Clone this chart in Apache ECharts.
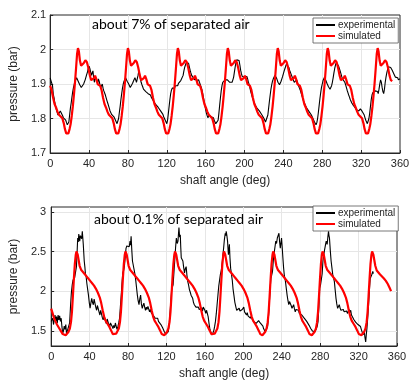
<!DOCTYPE html>
<html><head><meta charset="utf-8">
<script src="https://cdn.jsdelivr.net/npm/echarts@6/dist/echarts.min.js"></script>
<style>html,body{margin:0;padding:0;background:#fff}#c{width:420px;height:392px}</style>
</head><body><div id="c"></div>
<script>
// ---- top panel: about 7% of separated air ----
const topTitle = 'about 7% of separated air';
const topXTicks = [0, 360, 40];
const topYRange = [1.7, 2.1, 0.1];
const topExp = [[0,1.918],[0.8,1.91],[1.6,1.915],[2.4,1.895],[3.2,1.87],[4,1.86],[4.8,1.845],[5.6,1.835],[6.4,1.825],[7.2,1.818],[8,1.81],[8.8,1.815],[9.6,1.812],[10.4,1.822],[11.2,1.818],[12,1.825],[12.8,1.808],[13.6,1.802],[14.4,1.806],[15.2,1.798],[16,1.795],[16.8,1.788],[17.6,1.782],[18.4,1.778],[19.2,1.79],[20,1.81],[20.8,1.83],[21.6,1.845],[22.4,1.862],[23.2,1.878],[24,1.89],[24.8,1.9],[25.6,1.908],[26.4,1.912],[27.2,1.918],[28,1.915],[28.8,1.908],[29.6,1.905],[30.4,1.898],[31.2,1.895],[32,1.89],[32.8,1.886],[33.6,1.892],[34.4,1.9],[35.2,1.905],[36,1.912],[36.8,1.92],[37.6,1.928],[38.4,1.935],[39.2,1.945],[40,1.952],[40.8,1.945],[41.6,1.935],[42.4,1.925],[43.2,1.932],[44,1.938],[44.8,1.915],[45.6,1.905],[46.4,1.92],[47.2,1.925],[48,1.91],[48.8,1.902],[49.6,1.915],[50.4,1.908],[51.2,1.898],[52,1.89],[52.8,1.895],[53.6,1.9],[54.4,1.888],[55.2,1.88],[56,1.875],[56.8,1.868],[57.6,1.86],[58.4,1.852],[59.2,1.845],[60,1.84],[60.8,1.83],[61.6,1.822],[62.4,1.818],[63.2,1.812],[64,1.815],[64.8,1.808],[65.6,1.805],[66.4,1.8],[67.2,1.795],[68,1.79],[68.8,1.785],[69.6,1.79],[70.4,1.8],[71.2,1.818],[72,1.835],[72.8,1.855],[73.6,1.872],[74.4,1.888],[75.2,1.9],[76,1.908],[76.8,1.912],[77.6,1.918],[78.4,1.915],[79.2,1.908],[80,1.905],[80.8,1.9],[81.6,1.895],[82.4,1.89],[83.2,1.888],[84,1.895],[84.8,1.902],[85.6,1.908],[86.4,1.912],[87.2,1.918],[88,1.912],[88.8,1.905],[89.6,1.91],[90.4,1.925],[91.2,1.938],[92,1.93],[92.8,1.915],[93.6,1.905],[94.4,1.898],[95.2,1.892],[96,1.885],[96.8,1.88],[97.6,1.882],[98.4,1.878],[99.2,1.875],[100,1.878],[100.8,1.872],[101.6,1.87],[102.4,1.875],[103.2,1.868],[104,1.862],[104.8,1.865],[105.6,1.858],[106.4,1.85],[107.2,1.852],[108,1.845],[108.8,1.84],[109.6,1.842],[110.4,1.835],[111.2,1.832],[112,1.835],[112.8,1.828],[113.6,1.822],[114.4,1.825],[115.2,1.818],[116,1.812],[116.8,1.805],[117.6,1.8],[118.4,1.795],[119.2,1.79],[120,1.785],[120.8,1.795],[121.6,1.815],[122.4,1.835],[123.2,1.855],[124,1.872],[124.8,1.882],[125.6,1.888],[126.4,1.886],[127.2,1.89],[128,1.888],[128.8,1.895],[129.6,1.892],[130.4,1.898],[131.2,1.895],[132,1.902],[132.8,1.898],[133.6,1.905],[134.4,1.91],[135.2,1.908],[136,1.915],[136.8,1.925],[137.6,1.938],[138.4,1.948],[139.2,1.955],[140,1.962],[140.8,1.965],[141.6,1.958],[142.4,1.96],[143.2,1.95],[144,1.94],[144.8,1.932],[145.6,1.925],[146.4,1.928],[147.2,1.918],[148,1.922],[148.8,1.912],[149.6,1.918],[150.4,1.91],[151.2,1.915],[152,1.908],[152.8,1.912],[153.6,1.905],[154.4,1.9],[155.2,1.892],[156,1.885],[156.8,1.875],[157.6,1.862],[158.4,1.85],[159.2,1.838],[160,1.825],[160.8,1.815],[161.6,1.808],[162.4,1.802],[163.2,1.81],[164,1.805],[164.8,1.812],[165.6,1.805],[166.4,1.8],[167.2,1.808],[168,1.802],[168.8,1.795],[169.6,1.79],[170.4,1.785],[171.2,1.78],[172,1.782],[172.8,1.795],[173.6,1.815],[174.4,1.838],[175.2,1.86],[176,1.88],[176.8,1.895],[177.6,1.905],[178.4,1.91],[179.2,1.908],[180,1.912],[180.8,1.915],[181.6,1.91],[182.4,1.912],[183.2,1.908],[184,1.912],[184.8,1.905],[185.6,1.908],[186.4,1.902],[187.2,1.905],[188,1.912],[188.8,1.92],[189.6,1.935],[190.4,1.95],[191.2,1.962],[192,1.97],[192.8,1.975],[193.6,1.972],[194.4,1.968],[195.2,1.955],[196,1.94],[196.8,1.93],[197.6,1.922],[198.4,1.918],[199.2,1.925],[200,1.92],[200.8,1.918],[201.6,1.925],[202.4,1.922],[203.2,1.915],[204,1.905],[204.8,1.898],[205.6,1.888],[206.4,1.878],[207.2,1.87],[208,1.862],[208.8,1.855],[209.6,1.848],[210.4,1.845],[211.2,1.838],[212,1.835],[212.8,1.83],[213.6,1.828],[214.4,1.825],[215.2,1.822],[216,1.818],[216.8,1.815],[217.6,1.812],[218.4,1.808],[219.2,1.805],[220,1.8],[220.8,1.795],[221.6,1.79],[222.4,1.788],[223.2,1.795],[224,1.81],[224.8,1.83],[225.6,1.85],[226.4,1.868],[227.2,1.885],[228,1.898],[228.8,1.908],[229.6,1.915],[230.4,1.92],[231.2,1.925],[232,1.922],[232.8,1.918],[233.6,1.912],[234.4,1.905],[235.2,1.9],[236,1.898],[236.8,1.902],[237.6,1.908],[238.4,1.915],[239.2,1.922],[240,1.93],[240.8,1.938],[241.6,1.945],[242.4,1.952],[243.2,1.958],[244,1.962],[244.8,1.955],[245.6,1.948],[246.4,1.94],[247.2,1.935],[248,1.928],[248.8,1.922],[249.6,1.915],[250.4,1.91],[251.2,1.905],[252,1.9],[252.8,1.905],[253.6,1.912],[254.4,1.905],[255.2,1.898],[256,1.892],[256.8,1.888],[257.6,1.88],[258.4,1.872],[259.2,1.865],[260,1.858],[260.8,1.85],[261.6,1.845],[262.4,1.84],[263.2,1.835],[264,1.83],[264.8,1.828],[265.6,1.825],[266.4,1.82],[267.2,1.818],[268,1.815],[268.8,1.81],[269.6,1.805],[270.4,1.8],[271.2,1.795],[272,1.79],[272.8,1.785],[273.6,1.782],[274.4,1.788],[275.2,1.8],[276,1.818],[276.8,1.838],[277.6,1.858],[278.4,1.875],[279.2,1.89],[280,1.9],[280.8,1.91],[281.6,1.915],[282.4,1.92],[283.2,1.915],[284,1.908],[284.8,1.902],[285.6,1.898],[286.4,1.892],[287.2,1.888],[288,1.885],[288.8,1.888],[289.6,1.895],[290.4,1.905],[291.2,1.918],[292,1.932],[292.8,1.945],[293.6,1.955],[294.4,1.962],[295.2,1.965],[296,1.96],[296.8,1.952],[297.6,1.945],[298.4,1.938],[299.2,1.93],[300,1.922],[300.8,1.915],[301.6,1.92],[302.4,1.912],[303.2,1.905],[304,1.898],[304.8,1.89],[305.6,1.882],[306.4,1.875],[307.2,1.868],[308,1.862],[308.8,1.855],[309.6,1.85],[310.4,1.845],[311.2,1.84],[312,1.838],[312.8,1.835],[313.6,1.832],[314.4,1.828],[315.2,1.825],[316,1.822],[316.8,1.82],[317.6,1.822],[318.4,1.825],[319.2,1.828],[320,1.825],[320.8,1.822],[321.6,1.825],[322.4,1.818],[323.2,1.81],[324,1.802],[324.8,1.795],[325.6,1.79],[326.4,1.785],[327.2,1.788],[328,1.8],[328.8,1.815],[329.6,1.835],[330.4,1.855],[331.2,1.868],[332,1.875],[332.8,1.878],[333.6,1.875],[334.4,1.88],[335.2,1.878],[336,1.882],[336.8,1.878],[337.6,1.872],[338.4,1.885],[339.2,1.9],[340,1.912],[340.8,1.905],[341.6,1.89],[342.4,1.878],[343.2,1.872],[344,1.885],[344.8,1.905],[345.6,1.92],[346.4,1.932],[347.2,1.942],[348,1.95],[348.8,1.955],[349.6,1.952],[350.4,1.948],[351.2,1.945],[352,1.94],[352.8,1.935],[353.6,1.93],[354.4,1.925],[355.2,1.92],[356,1.918],[356.8,1.915],[357.6,1.918],[358.4,1.912],[359.2,1.915],[360,1.915]];
const topSim = [[0,1.895],[1.5,1.882],[3,1.86],[4.5,1.842],[6,1.832],[7.5,1.82],[9,1.811],[11,1.806],[12.5,1.801],[14,1.786],[15.2,1.769],[16.5,1.757],[17.5,1.753],[18.7,1.757],[20,1.77],[21,1.783],[22.2,1.808],[23.3,1.835],[24.4,1.868],[25.4,1.9],[26.6,1.945],[27.7,1.988],[28.6,2.004],[29.5,1.995],[30.6,1.968],[31.8,1.953],[33,1.951],[34.6,1.961],[36.2,1.969],[37.8,1.963],[39.2,1.948],[40.8,1.925],[42.2,1.911],[43.6,1.908],[45,1.917],[46.2,1.924],[47.5,1.914],[49,1.899],[50.4,1.895],
[51.4,1.895],[52.9,1.882],[54.4,1.86],[55.9,1.842],[57.4,1.832],[58.9,1.82],[60.4,1.811],[62.4,1.806],[63.9,1.801],[65.4,1.786],[66.6,1.769],[67.9,1.757],[68.9,1.753],[70.1,1.757],[71.4,1.77],[72.4,1.783],[73.6,1.808],[74.7,1.835],[75.8,1.868],[76.8,1.9],[78,1.945],[79.1,1.988],[80,2.004],[80.9,1.995],[82,1.968],[83.2,1.953],[84.4,1.951],[86,1.961],[87.6,1.969],[89.2,1.963],[90.6,1.948],[92.2,1.925],[93.6,1.911],[95,1.908],[96.4,1.917],[97.6,1.924],[98.9,1.914],[100.4,1.899],[101.8,1.895],
[102.8,1.895],[104.3,1.882],[105.8,1.86],[107.3,1.842],[108.8,1.832],[110.3,1.82],[111.8,1.811],[113.8,1.806],[115.3,1.801],[116.8,1.786],[118,1.769],[119.3,1.757],[120.3,1.753],[121.5,1.757],[122.8,1.77],[123.8,1.783],[125,1.808],[126.1,1.835],[127.2,1.868],[128.2,1.9],[129.4,1.945],[130.5,1.988],[131.4,2.004],[132.3,1.995],[133.4,1.968],[134.6,1.953],[135.8,1.951],[137.4,1.961],[139,1.969],[140.6,1.963],[142,1.948],[143.6,1.925],[145,1.911],[146.4,1.908],[147.8,1.917],[149,1.924],[150.3,1.914],[151.8,1.899],[153.2,1.895],
[154.2,1.895],[155.7,1.882],[157.2,1.86],[158.7,1.842],[160.2,1.832],[161.7,1.82],[163.2,1.811],[165.2,1.806],[166.7,1.801],[168.2,1.786],[169.4,1.769],[170.7,1.757],[171.7,1.753],[172.9,1.757],[174.2,1.77],[175.2,1.783],[176.4,1.808],[177.5,1.835],[178.6,1.868],[179.6,1.9],[180.8,1.945],[181.9,1.988],[182.8,2.004],[183.7,1.995],[184.8,1.968],[186,1.953],[187.2,1.951],[188.8,1.961],[190.4,1.969],[192,1.963],[193.4,1.948],[195,1.925],[196.4,1.911],[197.8,1.908],[199.2,1.917],[200.4,1.924],[201.7,1.914],[203.2,1.899],[204.6,1.895],
[205.6,1.895],[207.1,1.882],[208.6,1.86],[210.1,1.842],[211.6,1.832],[213.1,1.82],[214.6,1.811],[216.6,1.806],[218.1,1.801],[219.6,1.786],[220.8,1.769],[222.1,1.757],[223.1,1.753],[224.3,1.757],[225.6,1.77],[226.6,1.783],[227.8,1.808],[228.9,1.835],[230,1.868],[231,1.9],[232.2,1.945],[233.3,1.988],[234.2,2.004],[235.1,1.995],[236.2,1.968],[237.4,1.953],[238.6,1.951],[240.2,1.961],[241.8,1.969],[243.4,1.963],[244.8,1.948],[246.4,1.925],[247.8,1.911],[249.2,1.908],[250.6,1.917],[251.8,1.924],[253.1,1.914],[254.6,1.899],[256,1.895],
[257,1.895],[258.5,1.882],[260,1.86],[261.5,1.842],[263,1.832],[264.5,1.82],[266,1.811],[268,1.806],[269.5,1.801],[271,1.786],[272.2,1.769],[273.5,1.757],[274.5,1.753],[275.7,1.757],[277,1.77],[278,1.783],[279.2,1.808],[280.3,1.835],[281.4,1.868],[282.4,1.9],[283.6,1.945],[284.7,1.988],[285.6,2.004],[286.5,1.995],[287.6,1.968],[288.8,1.953],[290,1.951],[291.6,1.961],[293.2,1.969],[294.8,1.963],[296.2,1.948],[297.8,1.925],[299.2,1.911],[300.6,1.908],[302,1.917],[303.2,1.924],[304.5,1.914],[306,1.899],[307.4,1.895],
[308.4,1.895],[309.9,1.882],[311.4,1.86],[312.9,1.842],[314.4,1.832],[315.9,1.82],[317.4,1.811],[319.4,1.806],[320.9,1.801],[322.4,1.786],[323.6,1.769],[324.9,1.757],[325.9,1.753],[327.1,1.757],[328.4,1.77],[329.4,1.783],[330.6,1.808],[331.7,1.835],[332.8,1.868],[333.8,1.9],[335,1.945],[336.1,1.988],[337,2.004],[337.9,1.995],[339,1.968],[340.2,1.953],[341.4,1.951],[343,1.961],[344.6,1.969],[346.2,1.963],[347.6,1.948],[349.2,1.925],[350.6,1.911],[352,1.908]];

// ---- bottom panel: about 0.1% of separated air ----
const botTitle = 'about 0.1% of separated air';
const botYRange = [1.31, 3.06];
const botYTicks = [1.5, 2, 2.5, 3];
const botExp = [[0,1.62],[0.8,1.6],[1.6,1.66],[2.4,1.58],[3.2,1.64],[4,1.7],[4.8,1.62],[5.6,1.68],[6.4,1.6],[7.2,1.7],[8,1.64],[8.8,1.69],[9.6,1.62],[10.4,1.66],[11.2,1.55],[12,1.47],[12.8,1.5],[13.6,1.56],[14.4,1.52],[15.2,1.58],[16,1.46],[16.8,1.5],[17.6,1.48],[18.4,1.52],[19.2,1.6],[20.2,1.83],[21,1.98],[21.9,2.08],[22.7,2.14],[23.6,2.12],[24.4,2.17],[25.3,2.16],[26.3,2.31],[27,2.5],[27.6,2.67],[28.2,2.62],[28.7,2.72],[29.2,2.68],[29.7,2.63],[30.4,2.7],[31,2.71],[31.7,2.66],[32.4,2.755],[33.4,2.59],[34.4,2.38],[35.1,2.3],[35.7,2.21],[36.4,2.18],[37.1,2.1],[38,2.02],[38.8,1.95],[39.6,1.86],[40.5,1.785],[41.3,1.85],[42.2,1.91],[43,1.86],[43.9,1.83],[44.7,1.9],[45.6,1.89],[46.4,1.8],[47.3,1.76],[48.1,1.82],[49,1.83],[49.8,1.74],[50.7,1.7],[51.5,1.76],[52.4,1.74],[53.2,1.67],[54.1,1.64],[55,1.69],[55.8,1.7],[56.6,1.62],[57.5,1.59],[58.3,1.65],[59.2,1.66],[60,1.58],[60.9,1.55],[61.7,1.6],[62.6,1.62],[63.4,1.56],[64.3,1.53],[65.1,1.57],[66,1.54],[66.8,1.6],[67.7,1.59],[68.5,1.52],[69.4,1.55],[70.3,1.6],[71.2,1.66],[72,1.8],[72.9,1.95],[73.7,2.1],[74.5,2.23],[75.4,2.26],[76.2,2.31],[77,2.42],[77.9,2.54],[78.7,2.57],[79.6,2.59],[80.4,2.55],[81.2,2.56],[82.1,2.63],[82.6,2.58],[83.2,2.69],[83.9,2.52],[84.6,2.38],[85.4,2.33],[86.3,2.31],[87.1,2.22],[88,2.14],[88.8,2.05],[89.7,1.95],[90.5,1.88],[91.4,1.83],[92.2,1.9],[93.1,1.95],[93.9,1.84],[94.8,1.785],[95.6,1.82],[96.5,1.85],[97.3,1.8],[98.2,1.76],[99,1.8],[99.8,1.77],[100.7,1.81],[101.5,1.785],[102.4,1.74],[103.2,1.77],[104.1,1.73],[104.9,1.72],[105.8,1.75],[106.6,1.69],[107.5,1.7],[108.3,1.66],[109.1,1.68],[110,1.64],[110.8,1.66],[111.7,1.62],[112.5,1.6],[113.4,1.63],[114.2,1.58],[115.1,1.555],[116,1.54],[116.9,1.52],[117.8,1.49],[118.6,1.47],[119.5,1.46],[120.3,1.45],[121.1,1.47],[121.9,1.49],[122.8,1.58],[123.6,1.7],[124.5,1.86],[125.3,2],[126.1,2.05],[126.9,2.08],[127.8,2.24],[128.6,2.38],[129.5,2.55],[130.3,2.67],[131.2,2.6],[132,2.63],[132.5,2.72],[133,2.8],[133.7,2.68],[134.4,2.71],[134.9,2.55],[135.4,2.42],[136.2,2.44],[137.1,2.38],[137.9,2.3],[138.8,2.23],[139.6,2.28],[140.5,2.31],[141.3,2.2],[142.2,2.12],[143,2.08],[143.9,2.02],[144.7,1.99],[145.6,1.95],[146.4,1.93],[147.3,1.91],[148.1,1.86],[149,1.83],[149.8,1.85],[150.7,1.8],[151.5,1.82],[152.4,1.785],[153.2,1.8],[154.1,1.77],[154.9,1.79],[155.8,1.76],[156.6,1.79],[157.5,1.75],[158.3,1.8],[159.2,1.785],[160,1.76],[160.9,1.72],[161.7,1.76],[162.6,1.74],[163.4,1.68],[164.3,1.595],[165.1,1.53],[166,1.49],[166.8,1.47],[167.7,1.45],[168.5,1.47],[169.4,1.51],[170.2,1.56],[171,1.62],[171.9,1.72],[172.7,1.83],[173.6,1.95],[174.4,2.06],[175.3,2.14],[176.1,2.21],[177,2.26],[177.8,2.33],[178.7,2.45],[179.5,2.54],[180.3,2.65],[181.2,2.73],[181.7,2.7],[182.2,2.755],[182.9,2.7],[183.6,2.63],[184,2.55],[184.5,2.46],[185,2.52],[185.5,2.59],[186.1,2.42],[186.8,2.29],[187.6,2.22],[188.5,2.14],[189.3,2.03],[190.2,1.95],[191.2,1.86],[192.3,1.8],[193.1,1.76],[194,1.74],[194.8,1.78],[195.7,1.785],[196.5,1.75],[197.3,1.77],[198.1,1.74],[198.9,1.77],[199.7,1.76],[200.5,1.8],[201.3,1.74],[202.1,1.72],[203.3,1.7],[204.1,1.73],[204.9,1.69],[205.8,1.7],[206.6,1.68],[207.4,1.66],[208.3,1.69],[209.1,1.65],[210,1.64],[210.8,1.62],[211.7,1.64],[212.5,1.61],[213.4,1.595],[214.2,1.62],[215,1.6],[215.9,1.63],[216.8,1.64],[217.6,1.6],[218.5,1.62],[219.6,1.595],[220.4,1.56],[221.1,1.53],[221.9,1.51],[222.8,1.49],[223.6,1.48],[224.4,1.51],[225.3,1.555],[226.1,1.66],[227,1.83],[227.8,2],[228.7,2.16],[229.5,2.2],[230.4,2.25],[231.2,2.38],[232.1,2.48],[233,2.56],[233.8,2.63],[234.6,2.6],[235.4,2.67],[236.3,2.66],[237.1,2.73],[237.8,2.62],[238.5,2.54],[239.1,2.6],[239.8,2.67],[240.5,2.55],[241.2,2.42],[241.9,2.3],[242.6,2.21],[243.3,2.16],[243.9,2.12],[244.8,2.03],[245.6,1.95],[246.5,1.88],[247.3,1.83],[248.1,1.87],[249,1.89],[249.8,1.82],[250.7,1.785],[251.5,1.8],[252.4,1.83],[253.2,1.78],[254.1,1.74],[254.9,1.77],[255.8,1.75],[256.6,1.78],[257.5,1.76],[258.3,1.72],[259.2,1.74],[260,1.71],[260.9,1.7],[261.7,1.72],[262.6,1.68],[263.4,1.66],[264.3,1.64],[265.1,1.66],[266,1.62],[266.8,1.6],[267.6,1.595],[268.5,1.57],[269.3,1.55],[270.2,1.53],[271,1.52],[271.9,1.5],[272.7,1.51],[273.6,1.49],[274.4,1.49],[275.3,1.51],[276.1,1.53],[277,1.56],[277.8,1.62],[278.7,1.8],[279.5,2.04],[280.4,2.08],[281.2,2.1],[282.1,2.22],[282.9,2.38],[283.8,2.46],[284.6,2.52],[285.5,2.58],[286.3,2.63],[286.8,2.61],[287.3,2.59],[288,2.68],[288.7,2.755],[289.2,2.7],[289.7,2.67],[290.5,2.52],[291.4,2.38],[292.2,2.3],[293.1,2.21],[293.9,2.17],[294.8,2.12],[295.6,2.02],[296.5,1.91],[297.3,1.84],[298.2,1.785],[299,1.81],[299.9,1.83],[300.7,1.79],[301.6,1.76],[302.4,1.78],[303.3,1.75],[304.1,1.77],[305,1.74],[305.8,1.76],[306.7,1.73],[307.5,1.75],[308.4,1.72],[309.2,1.74],[310.1,1.77],[310.9,1.73],[311.8,1.76],[312.6,1.7],[313.5,1.68],[314.3,1.7],[315.2,1.64],[316,1.66],[316.9,1.61],[317.7,1.63],[318.6,1.595],[319.4,1.58],[320.3,1.6],[321.1,1.56],[322,1.555],[322.8,1.52],[323.7,1.5],[324.7,1.45],[325.3,1.47],[326,1.49],[326.6,1.42],[327.4,1.36],[328,1.45],[328.7,1.53],[329.5,1.66],[330.4,1.83],[331.2,2],[332.1,2.16],[332.9,2.14],[333.8,2.21],[334.8,2.25],[335.4,2.22]];
const botSim = [[0,1.78],[1.5,1.72],[3,1.66],[4.5,1.62],[6,1.58],[8,1.54],[10,1.5],[12,1.46],
[13.7,1.44],[15.1,1.445],[16.6,1.465],[18.1,1.49],[19.4,1.53],[20.6,1.61],[21.6,1.74],[22.6,1.94],[23.6,2.15],[24.6,2.34],[25.6,2.46],[26.3,2.5],[26.9,2.5],[27.6,2.46],[28.6,2.39],[29.6,2.32],[31.1,2.27],[32.6,2.245],[34.6,2.22],[36.6,2.19],[38.6,2.16],[40.6,2.13],[42.6,2.1],[44.6,2.07],[46.6,2.03],[48.6,1.98],[50.6,1.92],[52.1,1.85],[53.6,1.76],[55.1,1.68],[56.6,1.63],[58.6,1.59],[60.6,1.55],[62.6,1.5],[64.1,1.46],
[64.7,1.44],[66.1,1.445],[67.6,1.465],[69.1,1.49],[70.4,1.53],[71.6,1.61],[72.6,1.74],[73.6,1.94],[74.6,2.15],[75.6,2.34],[76.6,2.46],[77.3,2.5],[77.9,2.5],[78.6,2.46],[79.6,2.39],[80.6,2.32],[82.1,2.27],[83.6,2.245],[85.6,2.22],[87.6,2.19],[89.6,2.16],[91.6,2.13],[93.6,2.1],[95.6,2.07],[97.6,2.03],[99.6,1.98],[101.6,1.92],[103.1,1.85],[104.6,1.76],[106.1,1.68],[107.6,1.63],[109.6,1.59],[111.6,1.55],[113.6,1.5],[115.1,1.46],
[116.3,1.44],[117.7,1.445],[119.2,1.465],[120.7,1.49],[122,1.53],[123.2,1.61],[124.2,1.74],[125.2,1.94],[126.2,2.15],[127.2,2.34],[128.2,2.46],[128.9,2.5],[129.5,2.5],[130.2,2.46],[131.2,2.39],[132.2,2.32],[133.7,2.27],[135.2,2.245],[137.2,2.22],[139.2,2.19],[141.2,2.16],[143.2,2.13],[145.2,2.1],[147.2,2.07],[149.2,2.03],[151.2,1.98],[153.2,1.92],[154.7,1.85],[156.2,1.76],[157.7,1.68],[159.2,1.63],[161.2,1.59],[163.2,1.55],[165.2,1.5],[166.7,1.46],
[167.3,1.44],[168.7,1.445],[170.2,1.465],[171.7,1.49],[173,1.53],[174.2,1.61],[175.2,1.74],[176.2,1.94],[177.2,2.15],[178.2,2.34],[179.2,2.46],[179.9,2.5],[180.5,2.5],[181.2,2.46],[182.2,2.39],[183.2,2.32],[184.7,2.27],[186.2,2.245],[188.2,2.22],[190.2,2.19],[192.2,2.16],[194.2,2.13],[196.2,2.1],[198.2,2.07],[200.2,2.03],[202.2,1.98],[204.2,1.92],[205.7,1.85],[207.2,1.76],[208.7,1.68],[210.2,1.63],[212.2,1.59],[214.2,1.55],[216.2,1.5],[217.7,1.46],
[218.5,1.44],[219.9,1.445],[221.4,1.465],[222.9,1.49],[224.2,1.53],[225.4,1.61],[226.4,1.74],[227.4,1.94],[228.4,2.15],[229.4,2.34],[230.4,2.46],[231.1,2.5],[231.7,2.5],[232.4,2.46],[233.4,2.39],[234.4,2.32],[235.9,2.27],[237.4,2.245],[239.4,2.22],[241.4,2.19],[243.4,2.16],[245.4,2.13],[247.4,2.1],[249.4,2.07],[251.4,2.03],[253.4,1.98],[255.4,1.92],[256.9,1.85],[258.4,1.76],[259.9,1.68],[261.4,1.63],[263.4,1.59],[265.4,1.55],[267.4,1.5],[268.9,1.46],
[269.9,1.44],[271.3,1.445],[272.8,1.465],[274.3,1.49],[275.6,1.53],[276.8,1.61],[277.8,1.74],[278.8,1.94],[279.8,2.15],[280.8,2.34],[281.8,2.46],[282.5,2.5],[283.1,2.5],[283.8,2.46],[284.8,2.39],[285.8,2.32],[287.3,2.27],[288.8,2.245],[290.8,2.22],[292.8,2.19],[294.8,2.16],[296.8,2.13],[298.8,2.1],[300.8,2.07],[302.8,2.03],[304.8,1.98],[306.8,1.92],[308.3,1.85],[309.8,1.76],[311.3,1.68],[312.8,1.63],[314.8,1.59],[316.8,1.55],[318.8,1.5],[320.3,1.46],
[321.5,1.44],[322.9,1.445],[324.4,1.465],[325.9,1.49],[327.2,1.53],[328.4,1.61],[329.4,1.74],[330.4,1.94],[331.4,2.15],[332.4,2.34],[333.4,2.46],[334.1,2.5],[334.7,2.5],[335.4,2.46],[336.4,2.39],[337.4,2.32],[338.9,2.26],[340.4,2.235],[342.4,2.21],[344.4,2.19],[346.4,2.16],[348.4,2.13],[350.4,2.09],[352.4,2.04],[353.8,2]];

const seriesNames = ['experimental', 'simulated'];
const xName = 'shaft angle (deg)';
const yName = 'pressure (bar)';

const AX = '#262626', GRID = '#e6e6e6', FONT = 'Liberation Sans';
function xAxisFor(g) {
  return {
    gridIndex: g, type: 'value', min: topXTicks[0], max: topXTicks[1], interval: topXTicks[2],
    axisLine: { show: true, onZero: false, lineStyle: { color: AX, width: 1 } },
    axisTick: { show: true, inside: true, length: 3, lineStyle: { color: AX } },
    axisLabel: { color: AX, fontSize: 11, fontFamily: FONT, margin: 5 },
    splitLine: { show: true, showMinLine: false, showMaxLine: false, lineStyle: { color: GRID, width: 1 } },
    name: xName, nameLocation: 'middle', nameGap: 22,
    nameTextStyle: { color: AX, fontSize: 12, fontFamily: FONT }
  };
}
const yCommon = {
  type: 'value',
  axisLine: { show: true, onZero: false, lineStyle: { color: AX, width: 1 } },
  name: yName, nameLocation: 'middle', nameGap: 19,
  nameTextStyle: { color: AX, fontSize: 12, fontFamily: FONT }
};
function legendFor(top) {
  return { left: 313, top: top, orient: 'vertical', data: seriesNames, itemWidth: 19, itemHeight: 11, itemGap: 1,
    padding: [2, 3, 2, 2], backgroundColor: '#fff', borderColor: '#555', borderWidth: 0.8, borderRadius: 0,
    itemStyle: { opacity: 0 },
    textStyle: { color: AX, fontSize: 10, fontFamily: FONT, padding: [0, 0, 0, -2] }, selectedMode: false };
}

const option = {
  animation: false,
  backgroundColor: '#ffffff',
  grid: [
    { left: 45, top: 15, width: 355, height: 138, show: true, borderColor: AX, borderWidth: 1, backgroundColor: 'transparent' },
    { left: 44, top: 207, width: 353, height: 139, show: true, borderColor: AX, borderWidth: 1, backgroundColor: 'transparent' }
  ],
  xAxis: [xAxisFor(0), xAxisFor(1)],
  yAxis: [
    Object.assign({}, yCommon, {
      gridIndex: 0, min: topYRange[0], max: topYRange[1], interval: topYRange[2],
      axisTick: { show: true, inside: true, length: 3, lineStyle: { color: AX } },
      axisLabel: { color: AX, fontSize: 11, fontFamily: FONT, margin: 4 },
      splitLine: { show: true, showMinLine: false, showMaxLine: false, lineStyle: { color: GRID, width: 1 } }
    }),
    Object.assign({}, yCommon, {
      gridIndex: 1, min: botYRange[0], max: botYRange[1],
      axisTick: { show: true, inside: true, length: 3, lineStyle: { color: AX }, customValues: botYTicks },
      axisLabel: { color: AX, fontSize: 11, fontFamily: FONT, margin: 5, customValues: botYTicks },
      splitLine: { show: true, lineStyle: { color: GRID, width: 1 } }
    })
  ],
  legend: [legendFor(18), legendFor(206)],
  graphic: [
    { type: 'text', left: 92, top: 17, z: 10, style: { text: topTitle, font: '14px Lato', fill: '#000' } },
    { type: 'text', left: 94, top: 212, z: 10, style: { text: botTitle, font: '14px Lato', fill: '#000' } }
  ],
  series: [
    { name: seriesNames[0], type: 'line', xAxisIndex: 0, yAxisIndex: 0, data: topExp, symbol: 'none', lineStyle: { color: '#000', width: 1.1 }, itemStyle: { color: '#000' }, z: 2 },
    { name: seriesNames[1], type: 'line', xAxisIndex: 0, yAxisIndex: 0, data: topSim, symbol: 'none', lineStyle: { color: '#ff0000', width: 2.2 }, itemStyle: { color: '#ff0000' }, z: 3 },
    { name: seriesNames[0], type: 'line', xAxisIndex: 1, yAxisIndex: 1, data: botExp, symbol: 'none', lineStyle: { color: '#000', width: 1.1 }, itemStyle: { color: '#000' }, z: 2 },
    { name: seriesNames[1], type: 'line', xAxisIndex: 1, yAxisIndex: 1, data: botSim, symbol: 'none', lineStyle: { color: '#ff0000', width: 2.2 }, itemStyle: { color: '#ff0000' }, z: 3 }
  ]
};
const chart = echarts.init(document.getElementById('c'), null, { renderer: 'canvas' });
chart.setOption(option);
</script>
</body></html>
